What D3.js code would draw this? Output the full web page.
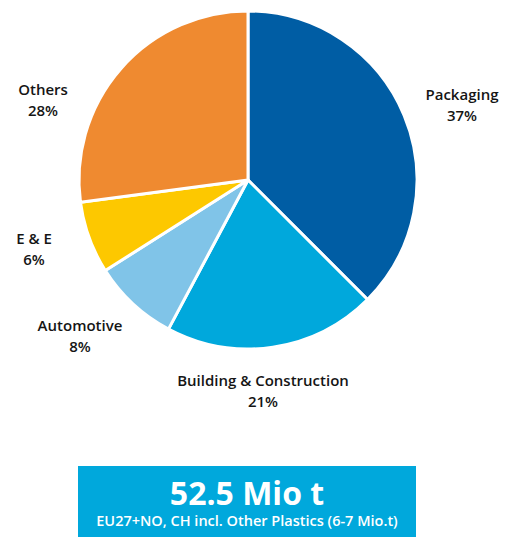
<!DOCTYPE html>
<html><head><meta charset="utf-8">
<script src="https://cdn.jsdelivr.net/npm/d3@7"></script>
<style>
html,body{margin:0;padding:0;background:#fff;}
svg{display:block;}
text{font-family:"Open Sans","Noto Sans",sans-serif;}
</style></head>
<body>
<svg id="chart" width="507" height="537"></svg>
<script>
const categories = ["Packaging", "Building & Construction", "Automotive", "E & E", "Others"];
const shares = [37.5, 20.3, 8.2, 6.9, 27.1];
const shareLabels = ["37%", "21%", "8%", "6%", "28%"];
const colors = ["#005da4", "#00a8dc", "#80c4e8", "#fdc800", "#ef8a30"];
const totalLabel = "52.5 Mio t";
const noteLabel = "EU27+NO, CH incl. Other Plastics (6-7 Mio.t)";

const svg = d3.select("#chart");
const cx = 248, cy = 180, r = 169;

const pie = d3.pie().sort(null).value(d => d.v);
const arcs = pie(categories.map((c, i) => ({c, v: shares[i], i})));
const arc = d3.arc().innerRadius(0).outerRadius(r);

const g = svg.append("g").attr("transform", `translate(${cx},${cy})`);
g.selectAll("path").data(arcs).join("path")
  .attr("d", arc)
  .attr("fill", d => colors[d.data.i])
  .attr("stroke", "#fff")
  .attr("stroke-width", 3)
  .attr("stroke-linejoin", "round");

// label anchor positions (layout)
const labelPos = {
  "Packaging": [462, 100],
  "Building & Construction": [263, 386],
  "Automotive": [80, 331],
  "E & E": [34, 244],
  "Others": [43, 95]
};
categories.forEach((c, i) => {
  const [x, y] = labelPos[c];
  const t = svg.append("text").attr("x", x).attr("y", y)
    .attr("text-anchor", "middle").attr("fill", "#151515")
    .attr("font-size", 15).attr("font-weight", 600);
  t.append("tspan").attr("x", x).text(c);
  t.append("tspan").attr("x", x).attr("dy", 20.5).text(shareLabels[i]);
});

// total box
svg.append("rect").attr("x", 78).attr("y", 466).attr("width", 338).attr("height", 71)
  .attr("fill", "#00a8dc");
svg.append("text").attr("x", 247).attr("y", 505).attr("text-anchor", "middle")
  .attr("fill", "#fff").attr("font-size", 32).attr("font-weight", 700).text(totalLabel);
svg.append("text").attr("x", 247).attr("y", 526).attr("text-anchor", "middle")
  .attr("fill", "#fff").attr("font-size", 14.5).attr("font-weight", 600).text(noteLabel);
</script>
</body></html>
